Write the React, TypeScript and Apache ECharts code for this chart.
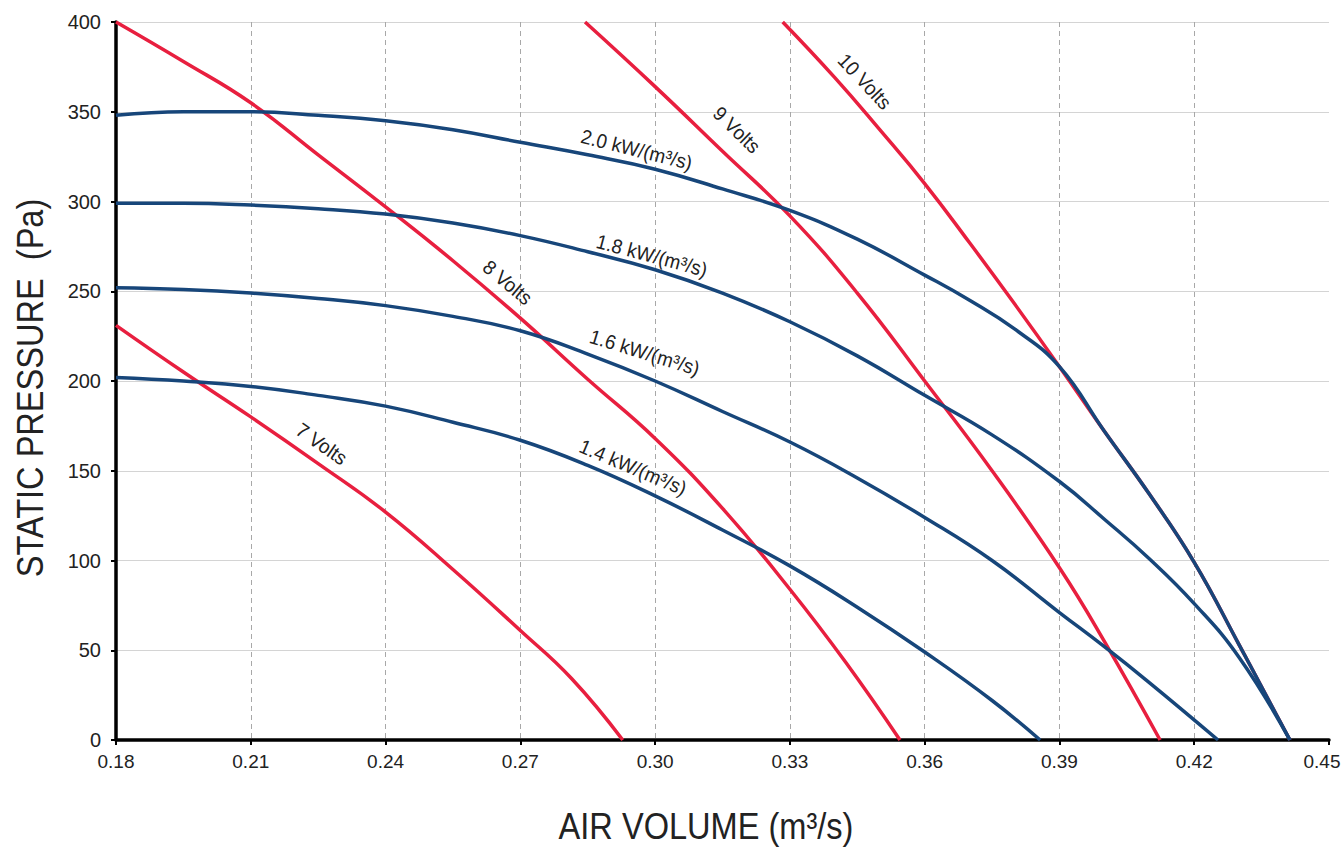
import React, { useEffect, useRef } from "react";
import * as echarts from "echarts";

// ---- data (air volume m³/s, static pressure Pa) ----
const volts7: [number, number][] = [[0.18, 231], [0.195, 205], [0.21, 180], [0.225, 154], [0.24, 127], [0.255, 95], [0.27, 61], [0.2815, 34], [0.2928, 0]];
const volts8: [number, number][] = [[0.18, 400], [0.195, 378], [0.21, 355], [0.225, 326], [0.24, 297], [0.255, 267], [0.27, 235], [0.285, 201], [0.30, 168], [0.315, 129], [0.33, 84], [0.3425, 43], [0.3545, 0]];
const volts9: [number, number][] = [[0.2844, 400], [0.30, 364], [0.315, 328], [0.33, 292], [0.345, 249], [0.36, 200], [0.375, 150], [0.39, 96], [0.40, 55], [0.4124, 0]];
const volts10: [number, number][] = [[0.3284, 400], [0.34, 369], [0.35, 340], [0.36, 310], [0.37, 277], [0.38, 243], [0.39, 208], [0.40, 172], [0.41, 137], [0.42, 99], [0.43, 53], [0.4413, 0]];

const kw14: [number, number][] = [[0.18, 202], [0.195, 200], [0.21, 197], [0.225, 192], [0.24, 186], [0.255, 177], [0.27, 167], [0.285, 153], [0.30, 136], [0.315, 117], [0.33, 97], [0.345, 74], [0.36, 49], [0.375, 22], [0.3857, 0]];
const kw16: [number, number][] = [[0.18, 252], [0.195, 251], [0.21, 249], [0.225, 246], [0.24, 242], [0.255, 236], [0.27, 228], [0.285, 215], [0.30, 200], [0.315, 183], [0.33, 166], [0.345, 146], [0.36, 124], [0.375, 100], [0.39, 71], [0.40, 52], [0.41, 32], [0.4253, 0]];
const kw18: [number, number][] = [[0.18, 299], [0.195, 299], [0.21, 298], [0.225, 296], [0.24, 293], [0.255, 288], [0.27, 281], [0.285, 272], [0.30, 262], [0.315, 249], [0.33, 233], [0.345, 214], [0.36, 192], [0.375, 170], [0.39, 144], [0.40, 123], [0.41, 101], [0.42, 76], [0.43, 46], [0.4413, 0]];
const kw20: [number, number][] = [[0.18, 348], [0.195, 350], [0.21, 350], [0.225, 348], [0.24, 345], [0.255, 340], [0.27, 333], [0.285, 326], [0.30, 318], [0.315, 307], [0.33, 295], [0.345, 279], [0.36, 259], [0.37, 245], [0.38, 229], [0.39, 208], [0.40, 172], [0.41, 137], [0.42, 99], [0.43, 53], [0.4413, 0]];

const voltSeries = [
  { name: "7 Volts", data: volts7 },
  { name: "8 Volts", data: volts8 },
  { name: "9 Volts", data: volts9 },
  { name: "10 Volts", data: volts10 },
];
const powerSeries = [
  { name: "1.4 kW/(m³/s)", data: kw14 },
  { name: "1.6 kW/(m³/s)", data: kw16 },
  { name: "1.8 kW/(m³/s)", data: kw18 },
  { name: "2.0 kW/(m³/s)", data: kw20 },
];

// curve label anchors: [text, airVolume, pressure, angle (deg, clockwise)]
const curveLabels: [string, number, number, number][] = [
  ["10 Volts", 0.3467, 367, 47],
  ["9 Volts", 0.3182, 340, 44],
  ["8 Volts", 0.2672, 255, 40],
  ["7 Volts", 0.2258, 165, 35],
  ["2.0 kW/(m³/s)", 0.2959, 329, 14],
  ["1.8 kW/(m³/s)", 0.2993, 270, 15],
  ["1.6 kW/(m³/s)", 0.2977, 216, 17],
  ["1.4 kW/(m³/s)", 0.2951, 152, 23],
];

const X_MIN = 0.18;
const X_MAX = 0.45;
const X_STEP = 0.03;
const Y_MIN = 0;
const Y_MAX = 400;
const Y_STEP = 50;

const FONT = "'Liberation Sans', Arial, Helvetica, sans-serif";
const RED = "#e81f3f";
const BLUE = "#17467a";

export default function App() {
  const ref = useRef<HTMLDivElement>(null);
  useEffect(() => {
    if (!ref.current) return;
    const chart = echarts.init(ref.current, null, { renderer: "svg" });
    const lineSeries = (s: { name: string; data: [number, number][] }, color: string) => ({
      type: "line",
      name: s.name,
      data: s.data,
      smooth: 0.45,
      showSymbol: false,
      symbol: "none",
      clip: true,
      lineStyle: { color, width: 3.5 },
      emphasis: { disabled: true },
    });
    chart.setOption({
      animation: false,
      backgroundColor: "#ffffff",
      grid: {
        left: 116,
        right: 14,
        top: 22,
        bottom: 109,
        containLabel: false,
        outerBoundsMode: "none",
      },
      xAxis: {
        type: "value",
        min: X_MIN,
        max: X_MAX,
        interval: X_STEP,
        axisLine: { show: true, onZero: false, lineStyle: { color: "#000", width: 3.5 } },
        axisTick: { show: true, length: 5, lineStyle: { color: "#000", width: 2 } },
        axisLabel: {
          color: "#222",
          fontSize: 19,
          fontFamily: FONT,
          margin: 12,
          formatter: (v: number) =>
            Math.abs(v - X_MAX) < 1e-9 ? `{last|${v.toFixed(2)}}` : v.toFixed(2),
          rich: {
            last: { color: "#222", fontSize: 19, fontFamily: FONT, padding: [0, 14, 0, 0] },
          },
        },
        splitLine: {
          show: true,
          showMaxLine: false,
          showMinLine: false,
          lineStyle: { color: "#a8a8a8", type: [5, 4], width: 1 },
        },
      },
      yAxis: {
        type: "value",
        min: Y_MIN,
        max: Y_MAX,
        interval: Y_STEP,
        axisLine: { show: true, onZero: false, lineStyle: { color: "#000", width: 3.5 } },
        axisTick: { show: true, length: 5, lineStyle: { color: "#000", width: 2 } },
        axisLabel: { color: "#222", fontSize: 20, fontFamily: FONT, margin: 15 },
        splitLine: { show: true, showMinLine: false, lineStyle: { color: "#d4d4d4", width: 1 } },
      },
      series: [
        ...voltSeries.map((s) => lineSeries(s, RED)),
        ...powerSeries.map((s) => lineSeries(s, BLUE)),
      ],
    });

    const labelGraphics = curveLabels.map(([text, xv, yv, ang]) => {
      const p = chart.convertToPixel({ gridIndex: 0 }, [xv, yv]) as number[];
      return {
        type: "text",
        x: p[0],
        y: p[1],
        rotation: (-ang * Math.PI) / 180,
        scaleX: 0.95,
        style: {
          text,
          fill: "#222",
          font: `20px ${FONT}`,
          align: "center",
          verticalAlign: "middle",
        },
        z: 100,
      };
    });

    chart.setOption({
      graphic: [
        ...labelGraphics,
        {
          type: "text",
          x: 30,
          y: 388,
          rotation: Math.PI / 2,
          scaleX: 0.88,
          style: {
            text: "STATIC PRESSURE  (Pa)",
            fill: "#222",
            font: `37px ${FONT}`,
            align: "center",
            verticalAlign: "middle",
          },
        },
        {
          type: "text",
          x: 706,
          y: 826,
          scaleX: 0.88,
          style: {
            text: "AIR VOLUME (m³/s)",
            fill: "#222",
            font: `37px ${FONT}`,
            align: "center",
            verticalAlign: "middle",
          },
        },
      ],
    });
    return () => chart.dispose();
  }, []);
  return (
    <div
      ref={ref}
      style={{ position: "fixed", left: 0, top: 0, width: 1343, height: 849, background: "#fff" }}
    />
  );
}
